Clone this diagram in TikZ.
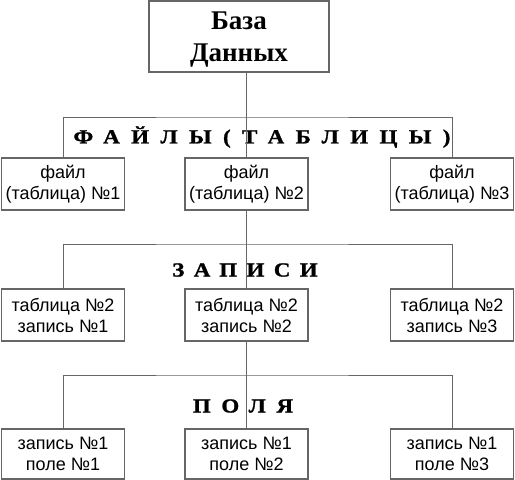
\documentclass[tikz,border=0pt]{standalone}
\usepackage{fontspec}
\setmainfont{Liberation Serif}
\newfontfamily\boxfont{Liberation Sans}
\newfontfamily\lblfont[FakeStretch=1.15, FakeBold=1.2]{Liberation Serif}
\tikzset{
	cell/.style={draw=black!60, line width=1.4pt, fill=white, minimum width=123pt, minimum height=52pt, inner sep=0pt, align=center, font=\boxfont\fontsize{18}{21}\selectfont},
	lvl/.style={inner sep=0pt, font=\lblfont\bfseries\fontsize{20}{22}\selectfont},
	wire/.style={draw=black!60, line width=1pt}
}
\begin{document}
\begin{tikzpicture}[x=1pt, y=-1pt]
	\useasboundingbox (0,0) rectangle (515,480);
	%\draw[help lines, gray!30] (0,0) grid[step=50] (515,480);
	
	\node[cell, minimum width=180pt, minimum height=71pt, text height=56pt, font=\bfseries\fontsize{27}{32}\selectfont] (db) at (239,36.5) {База\\Данных};
	
	\foreach \n/\x/\t in {1/63/{файл\\(таблица) №1}, 2/246.5/{файл\\(таблица) №2}, 3/452/{файл\\(таблица) №3}}
	\node[cell] (f\n) at (\x,184) {\t};
	
	\foreach \n/\x/\t in {1/63/{таблица №2\\запись №1}, 2/246.5/{таблица №2\\запись №2}, 3/452/{таблица №2\\запись №3}}
	\node[cell] (r\n) at (\x,315) {\t};
	
	\foreach \n/\x/\t in {1/63/{запись №1\\поле №1}, 2/246.5/{запись №1\\поле №2}, 3/452/{запись №1\\поле №3}}
	\node[cell, minimum height=50pt] (p\n) at (\x,454) {\t};
	
	\coordinate (barF) at (247,117);
	\coordinate (barR) at (247,244);
	\coordinate (barP) at (247,375);
	
	\draw[wire] (f1.north) |- (barF) -| (f3.north);
	\draw[wire] (r1.north) |- (barR) -| (r3.north);
	\draw[wire] (p1.north) |- (barP) -| (p3.north);
	
	\node[lvl] (lblF) at (262,137) {\addfontfeature{LetterSpace=57}ФАЙЛЫ(ТАБЛИЦЫ)};
	\node[lvl] (lblR) at (245,270) {\addfontfeature{LetterSpace=47}ЗАПИСИ};
	\node[lvl] (lblP) at (243,406) {\addfontfeature{LetterSpace=53}ПОЛЯ};
	
	\draw[wire] (db.south -| f2) -- (f2.north);
	\draw[wire] (f2.south) -- (r2.north);
	\draw[wire] (r2.south) -- (p2.north);
	
\end{tikzpicture}
\end{document}
